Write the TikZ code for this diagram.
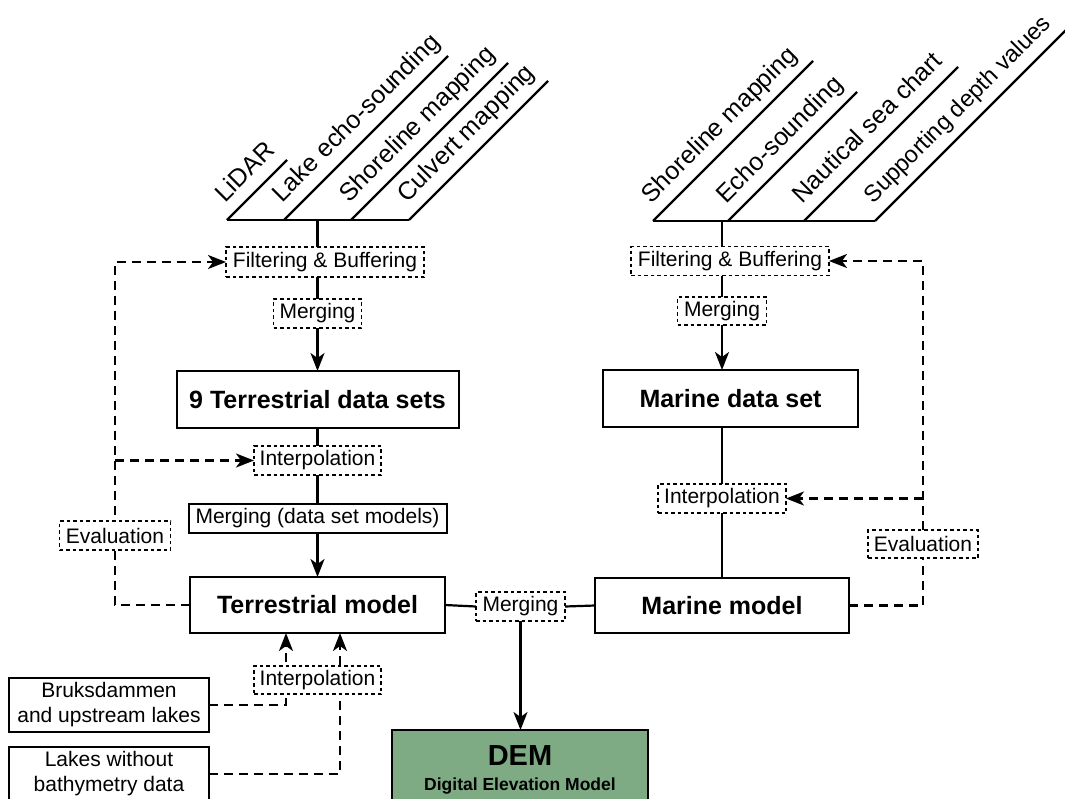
\documentclass[tikz,border=0pt]{standalone}
\usepackage{fontspec}
\setmainfont{Liberation Sans}
\usetikzlibrary{arrows.meta,backgrounds}
\definecolor{demgreen}{RGB}{126,171,132}
\begin{document}
\begin{tikzpicture}[x=1pt,y=-1pt,
  every node/.style={inner sep=0pt, outer sep=0pt, align=center},
  solidbox/.style={draw, line width=2pt, fill=white},
  dotbox/.style={draw, line width=1.8pt, fill=white, dash pattern=on 3.5pt off 3pt},
  lbl/.style={font=\fontsize{21}{25}\selectfont},
  ttl/.style={font=\fontsize{25}{30}\selectfont\bfseries},
  ln/.style={line width=2.2pt},
  arr/.style={ln,-{Stealth[length=18pt,width=14pt,inset=5pt]}},
  dsh/.style={ln,dash pattern=on 9pt off 6pt},
  diag/.style={font=\fontsize{25}{29}\selectfont, rotate=45, anchor=base west}
]
\useasboundingbox (0,0) rectangle (1065,798);

% boxes
\node[dotbox,lbl,minimum width=198pt,minimum height=30pt] (lfilt) at (325,262) {Filtering \& Buffering};
\node[dotbox,lbl,minimum width=88pt,minimum height=29pt] (lmerge) at (317.5,313.5) {Merging};
\node[solidbox,ttl,minimum width=282pt,minimum height=57pt] (tds) at (317.5,399.5) {9 Terrestrial data sets};
\node[dotbox,lbl,minimum width=127pt,minimum height=29pt] (linterp) at (317.5,460.5) {Interpolation};
\node[solidbox,lbl,minimum width=258pt,minimum height=29pt] (mdsm) at (317.5,518.5) {Merging (data set models)};
\node[solidbox,ttl,minimum width=255pt,minimum height=56pt] (tmod) at (317.5,605) {Terrestrial model};
\node[dotbox,lbl,minimum width=111pt,minimum height=29pt] (leval) at (115,535.5) {Evaluation};
\node[dotbox,lbl,minimum width=127pt,minimum height=28pt] (binterp) at (317.5,680) {Interpolation};
\node[solidbox,lbl,minimum width=200pt,minimum height=54pt] (bruk) at (109,705) {Bruksdammen\\and upstream lakes};
\node[solidbox,lbl,minimum width=200pt,minimum height=54pt] (lakes) at (109,774) {Lakes without\\bathymetry data};
\node[dotbox,lbl,minimum width=89pt,minimum height=29pt] (mmerge) at (520.5,606.5) {Merging};
\node[solidbox,ttl,minimum width=254pt,minimum height=55pt] (mmod) at (722,605.5) {Marine model};
\node[dotbox,lbl,minimum width=198pt,minimum height=29pt] (rfilt) at (730,261) {Filtering \& Buffering};
\node[dotbox,lbl,minimum width=89pt,minimum height=28pt] (rmerge) at (722,311) {Merging};
\node[solidbox,ttl,minimum width=255pt,minimum height=57pt] (mds) at (730.5,398.5) {Marine data set};
\node[dotbox,lbl,minimum width=128pt,minimum height=29pt] (rinterp) at (722,498.5) {Interpolation};
\node[dotbox,lbl,minimum width=110pt,minimum height=28pt] (reval) at (923,544) {Evaluation};
\node[solidbox,fill=demgreen,minimum width=256pt,minimum height=80pt,font=\bfseries] (dem) at (520,770)
  {{\fontsize{29}{29}\selectfont DEM}\\[11pt]{\fontsize{17.5}{21}\selectfont Digital Elevation Model}};

\coordinate (ljn) at (317.5,220);
\coordinate (rjn) at (722,221);

% source labels (left)
\draw[ln] (227,220) -- (409,220);
\draw[ln] (227,220) -- ++(60,-60);
\draw[ln] (284,220) -- ++(164,-164);
\draw[ln] (351,220) -- ++(157,-157);
\draw[ln] (409,220) -- ++(139,-139);
\node[diag] (t1) at (225,203) {LiDAR};
\node[diag] (t2) at (282,203) {Lake echo-sounding};
\node[diag] (t3) at (349,203) {Shoreline mapping};
\node[diag] (t4) at (407,203) {Culvert mapping};
% source labels (right)
\draw[ln] (653,221) -- (875,221);
\draw[ln] (653,221) -- ++(160,-160);
\draw[ln] (728,221) -- ++(129,-129);
\draw[ln] (804,221) -- ++(154,-154);
\draw[ln] (875,221) -- ++(200,-200);
\node[diag] (s1) at (651,204) {Shoreline mapping};
\node[diag] (s2) at (726,204) {Echo-sounding};
\node[diag] (s3) at (802,204) {Nautical sea chart};
\node[diag,font=\fontsize{23.5}{28}\selectfont] (s4) at (873,204) {Supporting depth values};

\begin{scope}[on background layer]
\fill[white] (0,0) rectangle (1065,798);
% left column
\draw[ln] (ljn) -- (ljn |- lfilt.north);
\draw[ln] (ljn |- lfilt.south) -- (lmerge.north);
\draw[arr] (lmerge.south) -- (tds.north);
\draw[ln] (tds.south) -- (linterp.north);
\draw[ln] (linterp.south) -- (mdsm.north);
\draw[arr] (mdsm.south) -- (tmod.north);
% merge to DEM
\draw[ln] (tmod.east) -- (mmerge.west);
\draw[ln] (mmerge.east) -- (mmod.west);
\draw[arr] (mmerge.south) -- (mmerge.south |- dem.north);
% right column
\draw[ln] (rjn) -- (rjn |- rfilt.north);
\draw[ln] (rjn |- rfilt.south) -- (rmerge.north);
\draw[arr] (rmerge.south) -- (rmerge.south |- mds.north);
\draw[ln] (rmerge.south |- mds.south) -- (rinterp.north);
\draw[ln] (rinterp.south) -- (mmod.north);
% evaluation loops
\draw[dsh,arr] (tmod.west) -| (leval.center) |- (lfilt.west);
\draw[dsh,arr] (leval.center |- linterp.west) -- (linterp.west);
\draw[dsh,arr] (mmod.east) -| (reval.center) |- (rfilt.east);
\draw[dsh,arr] (reval.center |- rinterp.east) -- (rinterp.east);
% lakes
\draw[dsh,arr] (bruk.east) -| ([xshift=-31.5pt]tmod.south);
\draw[dsh,arr] (lakes.east) -| ([xshift=22.5pt]tmod.south);
\end{scope}
\end{tikzpicture}
\end{document}
